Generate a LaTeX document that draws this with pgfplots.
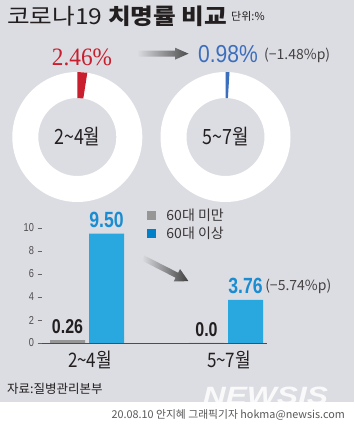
\documentclass[border=0pt]{standalone}
\usepackage{pgfplots}
\pgfplotsset{compat=1.18}
\usepackage{pgfplotstable}
\usepgfplotslibrary{polar}
\usepackage{fontspec}
\setmainfont{Noto Sans CJK KR}
\newfontfamily\kr{Noto Sans CJK KR}
\newfontfamily\krw[FakeStretch=1.12]{Noto Sans CJK KR}
\newfontfamily\krc[FakeStretch=0.85]{Noto Sans CJK KR}
\newfontfamily\cond[FakeStretch=0.8]{Liberation Sans}
\newfontfamily\condn[FakeStretch=0.86]{Liberation Sans}
\newfontfamily\sernum[FakeStretch=0.93]{Liberation Serif}
\newfontfamily\wm[FakeStretch=1.27]{Liberation Sans}

\definecolor{bgc}{RGB}{220,221,226}
\definecolor{barblue}{RGB}{41,168,224}
\definecolor{legblue}{RGB}{0,128,200}
\definecolor{bargray}{RGB}{150,150,150}
\definecolor{pctred}{RGB}{200,30,45}
\definecolor{pctblue}{RGB}{60,110,190}
\definecolor{lblblue}{RGB}{25,140,210}
\definecolor{txt}{RGB}{35,31,32}

\pgfplotstableread{
x y label
0 0.26 0.26
1 0 0.0
}\tblunder
\pgfplotstableread{
x y label
0 9.50 9.50
1 3.76 3.76
}\tblabove

\begin{document}
\begin{tikzpicture}[x=1pt,y=1pt]
\fill[white] (0,0) rectangle (354,427);
\fill[bgc] (0,25) rectangle (354,427);

% title
\node[anchor=west, inner sep=0, text=txt, font=\krw\fontsize{22}{22}\selectfont] at (7,410.5) {코로나19 \textbf{치명률 비교}};
\node[anchor=west, inner sep=0, text=txt, font=\kr\fontsize{11}{11}\selectfont] at (231,410.5) {단위:\%};

% top percentages
\node[text=pctred, inner sep=0, font=\sernum\fontsize{25}{25}\selectfont] at (82,370) {2.46\%};
\shade[left color=bgc, right color=black!70] (137,370.3) -- (175,370.3) -- (175,367.3) -- (188.5,373.3) -- (175,379.3) -- (175,376.3) -- (137,376.3) -- cycle;
\node[text=pctblue, inner sep=0, font=\condn\fontsize{24.5}{24.5}\selectfont] at (228,373.2) {0.98\%};
\node[anchor=west, text=txt!85, inner sep=0, font=\kr\fontsize{14}{14}\selectfont] at (264,371.3) {(−1.48\%p)};

% donuts
\begin{polaraxis}[at={(77.3pt,290pt)}, anchor=origin, scale only axis, width=130pt, height=130pt,
  ymin=0, ymax=65, hide axis, clip=false, x filter/.expression={90-3.6*x}]
\fill[white, even odd rule] (axis cs:0,0) circle[radius=65pt] circle[radius=39pt];
\addplot[fill=pctred, draw=none] coordinates {(0,39) (0,65) (2.46,65) (2.46,39)};
\node[text=txt, font=\krc\fontsize{21}{21}\selectfont] at (axis cs:0,0) {2\textasciitilde 4월};
\end{polaraxis}
\begin{polaraxis}[at={(225.5pt,290pt)}, anchor=origin, scale only axis, width=130pt, height=130pt,
  ymin=0, ymax=65, hide axis, clip=false, x filter/.expression={90-3.6*x}]
\fill[white, even odd rule] (axis cs:0,0) circle[radius=65pt] circle[radius=39pt];
\addplot[fill=pctblue, draw=none] coordinates {(0,39) (0,65) (0.98,65) (0.98,39)};
\node[text=txt, font=\krc\fontsize{21}{21}\selectfont] at (axis cs:0,0) {5\textasciitilde 7월};
\end{polaraxis}

% bars
\begin{axis}[at={(87pt,84pt)}, anchor=origin, scale only axis, width=225pt, height=115pt,
  xmin=-0.3237, xmax=1.295, ymin=0, ymax=10,
  axis x line*=bottom, axis y line*=left,
  axis line style={-},
  y axis line style={draw=none},
  x axis line style={draw=txt!80, line width=0.8pt},
  ytick={0,2,...,10}, xtick={0,1}, xticklabels={2\textasciitilde 4월,5\textasciitilde 7월},
  tick align=outside, major tick length=4.5pt,
  x tick style={draw=none}, y tick style={draw=txt!70, line width=0.6pt},
  /pgf/number format/assume math mode=true,
  yticklabel style={font=\cond\fontsize{11.5}{11.5}\selectfont, text=txt!80},
  xticklabel style={font=\krc\fontsize{20}{20}\selectfont, text=txt, xshift=3pt},
  ybar, bar width=35pt, clip=false,
  nodes near coords, point meta=explicit symbolic,
  every node near coord/.append style={font=\cond\bfseries\fontsize{22}{22}\selectfont, anchor=south, inner sep=1pt, yshift=5pt},
  legend style={draw=none, fill=none, at={(axis cs:0.43,11.75)}, anchor=north west, inner sep=0pt,
    font=\kr\fontsize{14}{14}\selectfont, text=txt!90, row sep=2pt,
    nodes={inner sep=1.2pt}},
  legend cell align=left,
]
\addplot[fill=bargray, draw=none, bar shift=-19.5pt,
  every node near coord/.append style={text=txt, font=\cond\bfseries\fontsize{20}{20}\selectfont},
  legend image code/.code={\fill[bargray] (0pt,-4.65pt) rectangle (9.3pt,4.65pt);}]
  table[x=x, y=y, meta=label] {\tblunder};
\addlegendentry{\hspace{9pt}60대 미만}
\addplot[fill=barblue, draw=none, bar shift=19.5pt,
  every node near coord/.append style={text=lblblue},
  legend image code/.code={\fill[legblue] (0pt,-4.65pt) rectangle (9.3pt,4.65pt);}]
  table[x=x, y=y, meta=label] {\tblabove};
\addlegendentry{\hspace{9pt}60대 이상}
\node[anchor=west, text=txt!85, inner sep=0, font=\kr\fontsize{14}{14}\selectfont] at (axis cs:1.281,4.96) {(−5.74\%p)};
\end{axis}

% diagonal arrow
\begin{scope}[shift={(143,169)}, rotate=-27]
\shade[left color=bgc, right color=black!75] (0,-2.8) -- (38,-2.8) -- (38,-7) -- (51,0) -- (38,7) -- (38,2.8) -- (0,2.8) -- cycle;
\end{scope}

% source and credit
\node[anchor=west, inner sep=0, text=txt, font=\kr\fontsize{12.5}{12.5}\selectfont] at (7,38) {자료:질병관리본부};
\node[inner sep=0, text=white, opacity=0.85, font=\wm\bfseries\itshape\fontsize{25}{25}\selectfont] at (265.5,31) {NEWSIS};
\node[anchor=east, inner sep=0, text=black!65, font=\kr\fontsize{10.8}{10.8}\selectfont] at (345,12) {20.08.10 안지혜 그래픽기자 hokma@newsis.com};

\pgfresetboundingbox
\useasboundingbox (0,0) rectangle (354,427);
\end{tikzpicture}
\end{document}
